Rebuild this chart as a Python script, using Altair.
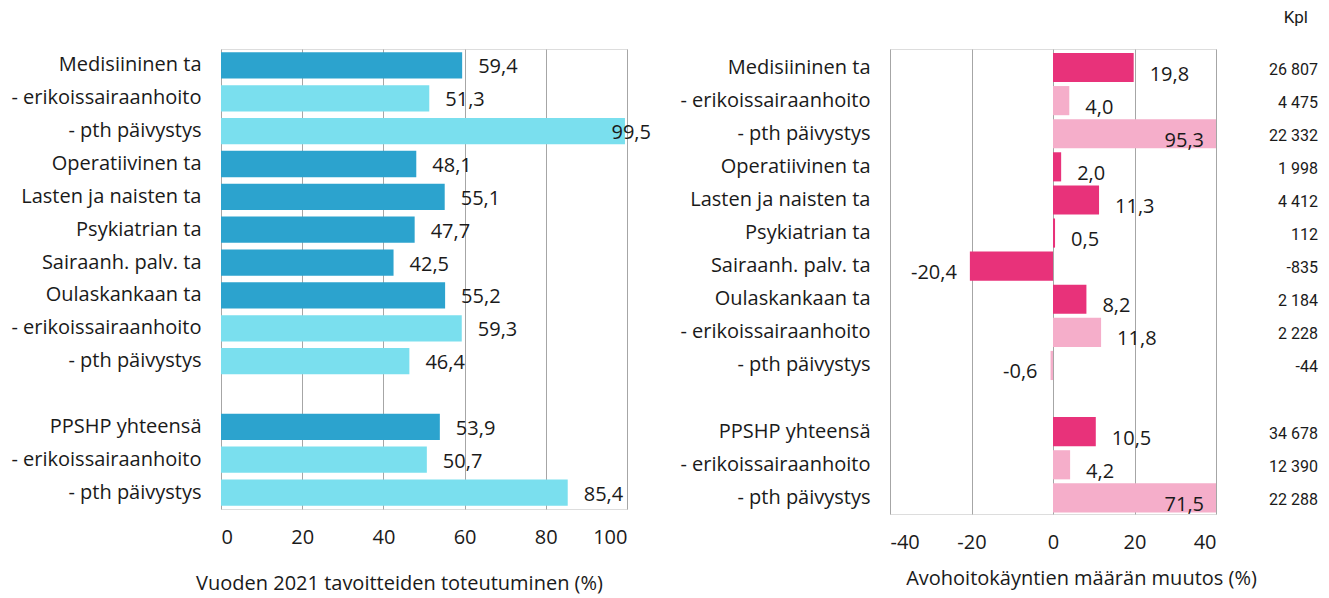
import json
import altair as alt
import pandas as pd

# ---- data ----
row_labels = ["Medisiininen ta", "- erikoissairaanhoito", "- pth päivystys",
              "Operatiivinen ta", "Lasten ja naisten ta", "Psykiatrian ta",
              "Sairaanh. palv. ta", "Oulaskankaan ta", "- erikoissairaanhoito",
              "- pth päivystys", "", "PPSHP yhteensä", "- erikoissairaanhoito",
              "- pth päivystys"]
rows = [0, 1, 2, 3, 4, 5, 6, 7, 8, 9, 11, 12, 13]
kind = ["main", "sub", "sub", "main", "main", "main", "main", "main", "sub", "sub",
        "main", "sub", "sub"]
goal = [59.4, 51.3, 99.5, 48.1, 55.1, 47.7, 42.5, 55.2, 59.3, 46.4, 53.9, 50.7, 85.4]
change = [19.8, 4.0, 95.3, 2.0, 11.3, 0.5, -20.4, 8.2, 11.8, -0.6, 10.5, 4.2, 71.5]
kpl = ["26 807", "4 475", "22 332", "1 998", "4 412", "112", "-835", "2 184",
       "2 228", "-44", "34 678", "12 390", "22 288"]

goal_ticks = [0, 20, 40, 60, 80, 100]
change_ticks = [-40, -20, 0, 20, 40]


def fi(v):
    return f"{v:.1f}".replace(".", ",")


df = pd.DataFrame({
    "row": rows, "kind": kind, "goal": goal, "change": change, "kpl": kpl,
    "glab": [fi(v) for v in goal], "clab": [fi(v) for v in change],
})

FONT = "Open Sans"
NARROW = "Liberation Sans Narrow, Roboto"
FS = 20
GRID = "#a6a6a6"
TXT = "#1a1a1a"
label_expr = json.dumps(row_labels, ensure_ascii=False) + "[datum.value]"


def yenc(pad_inner, pad_outer, align, lab_pad):
    return alt.Y("row:O",
                 scale=alt.Scale(domain=list(range(14)), paddingInner=pad_inner,
                                 paddingOuter=pad_outer, align=align),
                 axis=alt.Axis(title=None, labelExpr=label_expr, ticks=False,
                               domain=False, labelFontSize=FS, labelPadding=lab_pad,
                               labelColor=TXT, labelFont=FONT, labelLimit=400))


# ---- left panel ----
gx = alt.X("goal:Q",
           scale=alt.Scale(domain=[0, 100], nice=False),
           axis=alt.Axis(values=goal_ticks, grid=True, gridColor=GRID, domain=False,
                         ticks=False, labelFontSize=FS, labelPadding=18,
                         labelColor=TXT, labelFont=FONT,
                         title="Vuoden 2021 tavoitteiden toteutuminen (%)",
                         titleFontSize=FS, titleFontWeight="normal", titleFont=FONT,
                         titleColor=TXT, titleX=178, titleY=64,
                         titleAnchor="middle", titleAlign="center"))

base_l = alt.Chart(df)
bars_l = base_l.mark_bar().encode(
    x=gx, y=yenc(0.2, 0.1, 0.5, 20),
    color=alt.Color("kind:N", scale=alt.Scale(domain=["main", "sub"],
                                              range=["#2ca3ce", "#7adfee"]),
                    legend=None))
txt_l = base_l.transform_filter("datum.goal <= 95").mark_text(
    align="left", dx=16, dy=2, fontSize=FS, font=FONT, color=TXT).encode(
    x="goal:Q", y="row:O", text="glab:N")
txt_l2 = base_l.transform_filter("datum.goal > 95").mark_text(
    align="right", dx=26, dy=2, fontSize=FS, font=FONT, color=TXT).encode(
    x="goal:Q", y="row:O", text="glab:N")
left = alt.layer(bars_l, txt_l, txt_l2).properties(width=406, height=460)

# ---- right panel ----
cx = alt.X("change:Q",
           scale=alt.Scale(domain=[-40, 40], nice=False, clamp=True),
           axis=alt.Axis(values=change_ticks, grid=True, gridColor=GRID, domain=False,
                         ticks=False, labelFontSize=FS, labelPadding=18,
                         labelExpr="'' + datum.value",
                         labelColor=TXT, labelFont=FONT,
                         title="Avohoitokäyntien määrän muutos (%)",
                         titleFontSize=FS, titleFontWeight="normal", titleFont=FONT,
                         titleColor=TXT, titleX=191, titleY=54,
                         titleAnchor="middle", titleAlign="center"))

base_r = alt.Chart(df)
bars_r = base_r.mark_bar().encode(
    x=cx, y=yenc(0.12, 0.083, 0.72, 20),
    color=alt.Color("kind:N", scale=alt.Scale(domain=["main", "sub"],
                                              range=["#e8327a", "#f5aeca"]),
                    legend=None))
txt_pos = base_r.transform_filter("datum.change >= 0 && datum.change <= 40").mark_text(
    align="left", dx=16, dy=7, fontSize=FS, font=FONT, color=TXT).encode(
    x="change:Q", y="row:O", text="clab:N")
txt_neg = base_r.transform_filter("datum.change < 0").mark_text(
    align="right", dx=-13, dy=7, fontSize=FS, font=FONT, color=TXT).encode(
    x="change:Q", y="row:O", text="clab:N")
txt_big = base_r.transform_filter("datum.change > 40").mark_text(
    align="right", dx=-12, dy=7, fontSize=FS, font=FONT, color=TXT).encode(
    x="change:Q", y="row:O", text="clab:N")
kpl_txt = base_r.mark_text(align="right", dy=2, fontSize=16, font=NARROW,
                           color=TXT).encode(
    x=alt.value(428), y="row:O", text="kpl:N")
kpl_head = alt.Chart(pd.DataFrame({"t": ["Kpl"]})).mark_text(
    align="right", fontSize=17, font=NARROW, color=TXT).encode(
    x=alt.value(418), y=alt.value(-31), text="t:N")
right = alt.layer(bars_r, txt_pos, txt_neg, txt_big, kpl_txt, kpl_head).properties(
    width=326, height=465)

chart = alt.hconcat(left, right, spacing=27).resolve_scale(
    color="independent"
).properties(
    padding={"left": 2, "top": 0, "right": 0, "bottom": 0}
).configure_view(stroke="#9a9a9a", strokeWidth=1).configure(font=FONT)

chart.save("out.html", embed_options={"renderer": "svg", "actions": False})
